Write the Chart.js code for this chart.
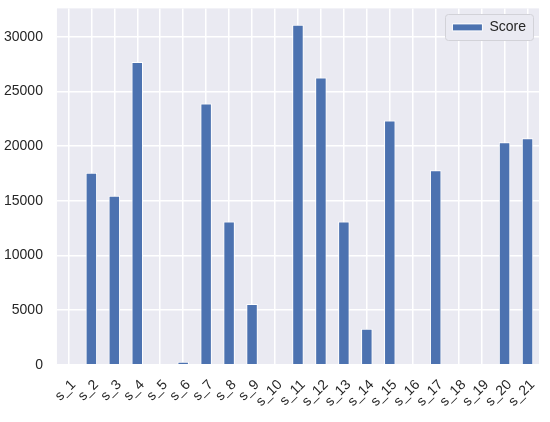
<!DOCTYPE html>
<html>
<head>
<meta charset="utf-8">
<script src="https://cdn.jsdelivr.net/npm/chart.js@4/dist/chart.umd.min.js"></script>
<style>
  html, body { margin: 0; padding: 0; background: #fff; }
  #wrap { width: 550px; height: 422px; }
</style>
</head>
<body>
<div id="wrap"><canvas id="scoreChart" width="550" height="422"></canvas></div>
<script>
const students = ['s_1', 's_2', 's_3', 's_4', 's_5', 's_6', 's_7', 's_8', 's_9', 's_10', 's_11',
  's_12', 's_13', 's_14', 's_15', 's_16', 's_17', 's_18', 's_19', 's_20', 's_21'];
const scores = [0, 17550, 15450, 27700, 0, 270, 23900, 13100, 5550, 0, 31100,
  26280, 13100, 3280, 22350, 0, 17800, 0, 0, 20350, 20720];
const yTicks = [0, 5000, 10000, 15000, 20000, 25000, 30000];
const yMax = 32600;

const bgColor = '#EAEAF2';
const barColor = '#4C72B0';
const textColor = '#262626';
const fontFamily = '"Liberation Sans", Arial, sans-serif';

// fond gris de la zone du graphique (style seaborn)
const plotBackground = {
  id: 'plotBackground',
  beforeDraw(chart) {
    const { ctx, chartArea } = chart;
    ctx.save();
    ctx.fillStyle = bgColor;
    ctx.fillRect(chartArea.left, chartArea.top, chartArea.right - chartArea.left, chartArea.bottom - chartArea.top);
    ctx.restore();
  },
};

// légende en haut à droite, dans la zone du graphique, avec un cadre
const legendFrame = {
  id: 'legendFrame',
  afterLayout(chart) {
    const lg = chart.legend;
    const area = chart.chartArea;
    lg.left = area.right - 6 - lg.width + 3;
    lg.right = lg.left + lg.width;
    lg.top = area.top + 2;
  },
  afterDatasetsDraw(chart) {
    const lg = chart.legend;
    const area = chart.chartArea;
    const { ctx } = chart;
    const x = Math.round(lg.left + 3);
    const y = Math.round(area.top + 6);
    const w = Math.round(lg.width - 6);
    const h = 26;
    ctx.save();
    ctx.beginPath();
    ctx.roundRect(x + 0.5, y + 0.5, w, h, 3);
    ctx.fillStyle = bgColor;
    ctx.fill();
    ctx.strokeStyle = '#d2d2d8';
    ctx.lineWidth = 1;
    ctx.stroke();
    ctx.restore();
    lg.draw();
  },
};

const myChart = new Chart('scoreChart', {
  type: 'bar',
  data: {
    labels: students,
    datasets: [
      {
        label: 'Score',
        data: scores,
        backgroundColor: barColor,
        borderColor: '#ffffff',
        borderWidth: 1,
        barPercentage: 0.5,
        categoryPercentage: 1,
      },
    ],
  },
  options: {
    responsive: false,
    animation: false,
    layout: { padding: { left: 4, top: 7, right: 11, bottom: 12 } },
    plugins: {
      legend: {
        position: 'chartArea',
        fullSize: false,
        align: 'start',
        labels: {
          boxWidth: 30,
          boxHeight: 7,
          color: textColor,
          font: { family: fontFamily, size: 14 },
        },
      },
      tooltip: { enabled: false },
    },
    scales: {
      x: {
        afterFit: (scale) => {
          scale.paddingLeft = 0; // les étiquettes penchées ne poussent pas la zone
        },
        grid: {
          color: '#ffffff',
          lineWidth: 1.5,
          offset: false,
          drawTicks: true,
          tickLength: 12,
          tickColor: 'rgba(0,0,0,0)',
        },
        border: { display: false },
        ticks: {
          color: textColor,
          font: { family: fontFamily, size: 14 },
          autoSkip: false,
          minRotation: 45,
          maxRotation: 45,
          padding: 0,
          labelOffset: 5,
        },
      },
      y: {
        min: 0,
        max: yMax,
        afterBuildTicks: (scale) => {
          scale.ticks = yTicks.map((v) => ({ value: v }));
        },
        grid: {
          color: '#ffffff',
          lineWidth: 1.5,
          drawTicks: true,
          tickLength: 14,
          tickColor: 'rgba(0,0,0,0)',
        },
        border: { display: false },
        ticks: {
          color: textColor,
          font: { family: fontFamily, size: 14 },
          padding: 0,
          callback: (value) => String(value),
        },
      },
    },
  },
  plugins: [plotBackground, legendFrame],
});
</script>
</body>
</html>
